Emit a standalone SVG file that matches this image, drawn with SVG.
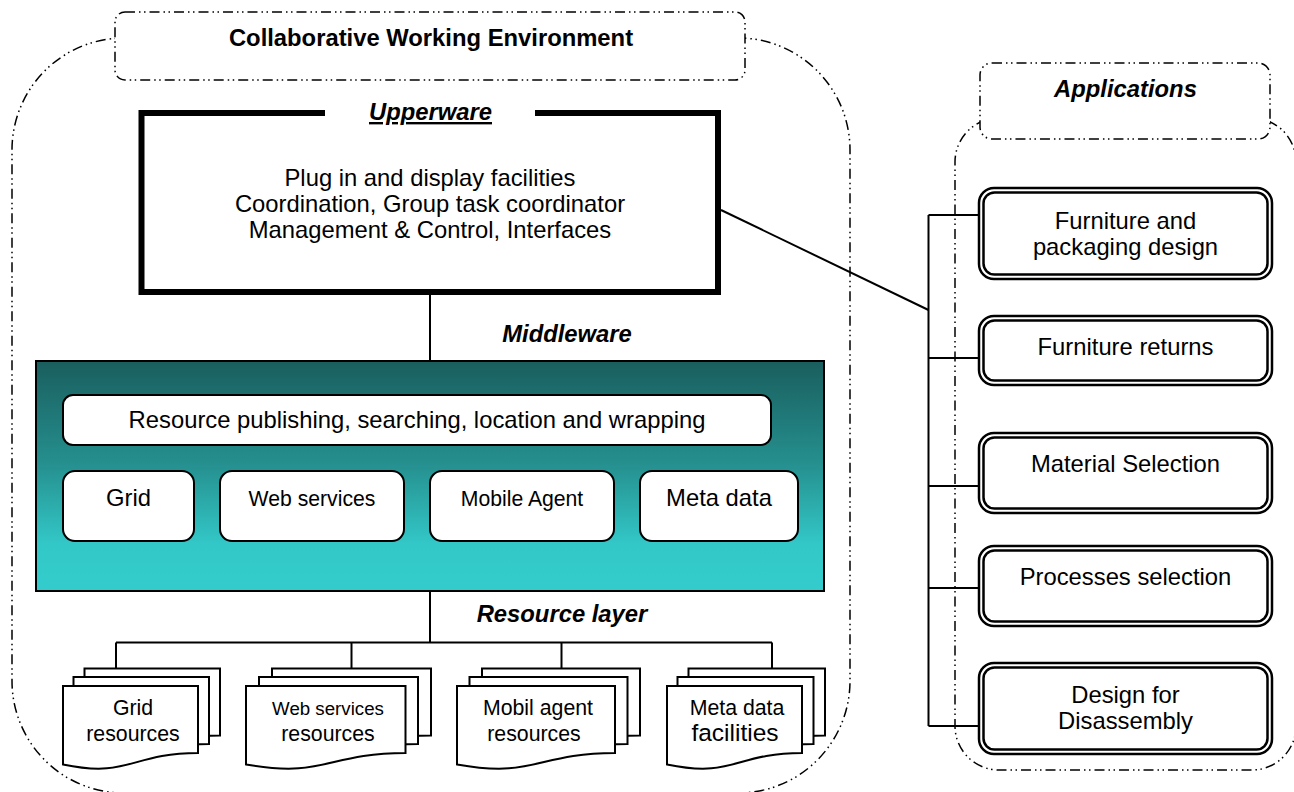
<svg xmlns="http://www.w3.org/2000/svg" width="1294" height="792" viewBox="0 0 1294 792">
<defs>
<linearGradient id="mwGrad" x1="0" y1="0" x2="0" y2="1">
<stop offset="0" stop-color="#1a5e5e"/>
<stop offset="0.45" stop-color="#25908f"/>
<stop offset="0.8" stop-color="#33c8c8"/>
<stop offset="1" stop-color="#33cccc"/>
</linearGradient>
</defs>
<style>
.dd{fill:none;stroke:#000;stroke-width:1.5;stroke-dasharray:10 4 1.5 3.5 1.5 4}
.ddw{fill:#fff;stroke:#000;stroke-width:1.5;stroke-dasharray:10 4 1.5 3.5 1.5 4}
.t{font-family:"Liberation Sans",Arial,sans-serif;fill:#000;text-anchor:middle}
.r{font-size:23.8px}
.s{font-size:21.2px}
.b{font-size:23.8px;font-weight:bold}
.bi{font-size:23.8px;font-weight:bold;font-style:italic}
.wbox{fill:#fff;stroke:#000;stroke-width:2}
.ln{fill:none;stroke:#000;stroke-width:2}
.doc{fill:#fff;stroke:#000;stroke-width:2;stroke-linejoin:miter}
.app{fill:#fff;stroke:#000;stroke-width:2.5}
.appi{fill:none;stroke:#000;stroke-width:2.5}
</style>

<!-- Containers -->
<g id="cwe-container">
<rect class="dd" x="12" y="38" width="838" height="755" rx="112" ry="112"/>
</g>
<g id="apps-container">
<rect class="dd" x="955" y="118" width="341" height="652" rx="44" ry="44"/>
</g>

<g id="cwe-title">
<rect class="ddw" x="115" y="12" width="630" height="68" rx="10" ry="10"/>
<text class="t b" x="431" y="46">Collaborative Working Environment</text>
</g>

<g id="apps-title">
<rect class="ddw" x="980" y="63" width="290" height="76" rx="12" ry="12"/>
<text class="t bi" x="1125.5" y="97">Applications</text>
</g>

<!-- Connectors -->
<g id="connectors">
<line class="ln" x1="430" y1="292" x2="430" y2="361"/>
<line class="ln" x1="142" y1="445" x2="142" y2="471"/>
<line class="ln" x1="325" y1="445" x2="325" y2="471"/>
<line class="ln" x1="509" y1="445" x2="509" y2="471"/>
<line class="ln" x1="693" y1="445" x2="693" y2="471"/>
<polyline class="ln" points="142,541 142,566 693,566 693,541"/>
<line class="ln" x1="325" y1="541" x2="325" y2="566"/>
<line class="ln" x1="509" y1="541" x2="509" y2="566"/>
<line class="ln" x1="430" y1="591" x2="430" y2="642.5"/>
<line class="ln" x1="116" y1="642.5" x2="772" y2="642.5"/>
<line class="ln" x1="116" y1="642.5" x2="116" y2="668"/>
<line class="ln" x1="351.5" y1="642.5" x2="351.5" y2="668"/>
<line class="ln" x1="561.5" y1="642.5" x2="561.5" y2="668"/>
<line class="ln" x1="772" y1="642.5" x2="772" y2="668"/>
<line class="ln" x1="721" y1="210" x2="928.5" y2="310"/>
<line class="ln" x1="928.5" y1="215" x2="928.5" y2="726"/>
<line class="ln" x1="928.5" y1="215" x2="979" y2="215"/>
<line class="ln" x1="928.5" y1="358" x2="979" y2="358"/>
<line class="ln" x1="928.5" y1="486" x2="979" y2="486"/>
<line class="ln" x1="928.5" y1="588" x2="979" y2="588"/>
<line class="ln" x1="928.5" y1="726" x2="979" y2="726"/>
</g>

<!-- Upperware -->
<g id="upperware">
<polyline fill="none" stroke="#000" stroke-width="6" stroke-linejoin="miter" points="325,113 141.5,113 141.5,292 718,292 718,113 535,113"/>
<text class="t bi" x="430.5" y="120" text-decoration="underline">Upperware</text>
<text class="t r" x="430" y="186">Plug in and display facilities</text>
<text class="t r" x="430" y="212">Coordination, Group task coordinator</text>
<text class="t r" x="430" y="238">Management &amp; Control, Interfaces</text>
</g>

<g id="middleware-label"><text class="t bi" x="567" y="342">Middleware</text></g>

<!-- Middleware -->
<g id="middleware">
<rect x="36" y="361" width="788" height="230" fill="url(#mwGrad)" stroke="#000" stroke-width="2"/>
</g>
<g id="pub-box">
<rect class="wbox" x="63" y="395" width="708" height="50" rx="10" ry="10"/>
<text class="t r" x="417" y="428">Resource publishing, searching, location and wrapping</text>
</g>
<g id="grid-box">
<rect class="wbox" x="63" y="471" width="131" height="70" rx="12" ry="12"/>
<text class="t r" x="128.5" y="506">Grid</text>
</g>
<g id="web-box">
<rect class="wbox" x="220" y="471" width="184" height="70" rx="12" ry="12"/>
<text class="t s" x="312" y="506">Web services</text>
</g>
<g id="mobile-box">
<rect class="wbox" x="430" y="471" width="184" height="70" rx="12" ry="12"/>
<text class="t s" x="522" y="506">Mobile Agent</text>
</g>
<g id="meta-box">
<rect class="wbox" x="640" y="471" width="158" height="70" rx="12" ry="12"/>
<text class="t r" x="719" y="506">Meta data</text>
</g>

<g id="resource-label"><text class="t bi" x="562" y="622">Resource layer</text></g>

<!-- Resource documents -->
<g id="grid-resources">
<path class="doc" d="M84.5,668.5 H220 V735.5 C152,735.5 152,761 84.5,746.5 Z"/>
<path class="doc" d="M73.5,677 H209 V744 C141,744 141,769.5 73.5,755 Z"/>
<path class="doc" d="M63,686 H198 V753 C130,753 130,778.5 63,764.5 Z"/>
<text class="t" font-size="21.3" x="133" y="715">Grid</text>
<text class="t" font-size="21.3" x="133" y="741">resources</text>
</g>
<g id="web-resources">
<path class="doc" d="M272,668.5 H431 V735.5 C351.5,735.5 351.5,761 272,746.5 Z"/>
<path class="doc" d="M259,677 H418 V744 C338.5,744 338.5,769.5 259,755 Z"/>
<path class="doc" d="M246,686 H405.5 V753 C326,753 326,778.5 246,764.5 Z"/>
<text class="t" font-size="18.7" x="328" y="715">Web services</text>
<text class="t" font-size="21.3" x="328" y="741">resources</text>
</g>
<g id="mobil-resources">
<path class="doc" d="M482,668.5 H640 V735.5 C561,735.5 561,761 482,746.5 Z"/>
<path class="doc" d="M469.5,677 H627.5 V744 C548.5,744 548.5,769.5 469.5,755 Z"/>
<path class="doc" d="M457,686 H615 V753 C536,753 536,778.5 457,764.5 Z"/>
<text class="t" font-size="21.3" x="538" y="715">Mobil agent</text>
<text class="t" font-size="21.3" x="534" y="741">resources</text>
</g>
<g id="meta-facilities">
<path class="doc" d="M688.5,668.5 H825 V735.5 C757,735.5 757,761 688.5,746.5 Z"/>
<path class="doc" d="M677.5,677 H813.5 V744 C745.5,744 745.5,769.5 677.5,755 Z"/>
<path class="doc" d="M667,686 H802 V753 C734.5,753 734.5,778.5 667,764.5 Z"/>
<text class="t" font-size="21.3" x="737" y="715">Meta data</text>
<text class="t" font-size="24.5" x="735" y="741">facilities</text>
</g>

<!-- Applications -->
<g id="app-furniture-design">
<rect class="app" x="979" y="188" width="293" height="91" rx="15" ry="15"/>
<rect class="appi" x="983.5" y="192.5" width="284" height="82" rx="11" ry="11"/>
<text class="t r" x="1125.5" y="229">Furniture and</text>
<text class="t r" x="1125.5" y="255">packaging design</text>
</g>
<g id="app-furniture-returns">
<rect class="app" x="979" y="316" width="293" height="69" rx="15" ry="15"/>
<rect class="appi" x="983.5" y="320.5" width="284" height="60" rx="11" ry="11"/>
<text class="t r" x="1125.5" y="355">Furniture returns</text>
</g>
<g id="app-material">
<rect class="app" x="979" y="433" width="293" height="80" rx="15" ry="15"/>
<rect class="appi" x="983.5" y="437.5" width="284" height="71" rx="11" ry="11"/>
<text class="t r" x="1125.5" y="472">Material Selection</text>
</g>
<g id="app-processes">
<rect class="app" x="979" y="546" width="293" height="80" rx="15" ry="15"/>
<rect class="appi" x="983.5" y="550.5" width="284" height="71" rx="11" ry="11"/>
<text class="t r" x="1125.5" y="585">Processes selection</text>
</g>
<g id="app-disassembly">
<rect class="app" x="979" y="663" width="293" height="91" rx="15" ry="15"/>
<rect class="appi" x="983.5" y="667.5" width="284" height="82" rx="11" ry="11"/>
<text class="t r" x="1125.5" y="703">Design for</text>
<text class="t r" x="1125.5" y="729">Disassembly</text>
</g>
</svg>
